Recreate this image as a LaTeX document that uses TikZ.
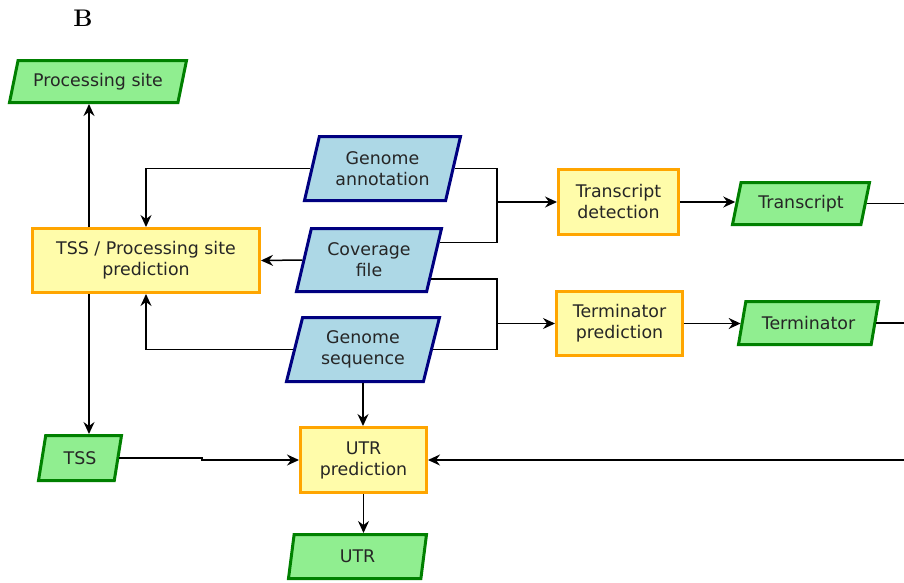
\documentclass[tikz,border=0pt]{standalone}
\usepackage{fontspec}
\newfontfamily\dejavu{DejaVu Sans}
\usetikzlibrary{shapes.geometric,arrows.meta}
\definecolor{procfill}{HTML}{FFFCAA}
\definecolor{procdraw}{HTML}{FFA500}
\definecolor{infill}{HTML}{ADD8E6}
\definecolor{indraw}{HTML}{000080}
\definecolor{outfill}{HTML}{90EE90}
\definecolor{outdraw}{HTML}{008000}
\begin{document}
\begin{tikzpicture}[x=1pt, y=-1pt,
  every node/.style = {align=center, text=black!85,
    font=\dejavu\fontsize{17.4}{21}\selectfont},
  proc/.style = {rectangle, draw=procdraw, fill=procfill, line width=3pt},
  para/.style = {trapezium, trapezium left angle=70, trapezium right angle=110,
    trapezium stretches body, line width=3pt},
  indata/.style = {para, draw=indraw, fill=infill},
  outdata/.style = {para, draw=outdraw, fill=outfill},
  wire/.style = {line width=1.5pt},
  flow/.style = {wire, -{Stealth[length=12pt, width=11pt, inset=4pt]}}]
  \useasboundingbox (0,0) rectangle (904,582);
  \node[font=\rmfamily\fontsize{24}{28}\selectfont\bfseries, text=black] (panel) at (83,18) {B};
  % inputs
  \node[indata, minimum width=156pt, minimum height=64pt] (annot) at (382.5,168.5) {Genome\\annotation};
  \node[indata, minimum width=145pt, minimum height=63pt] (cov) at (369,260) {Coverage\\file};
  \node[indata, minimum width=153pt, minimum height=64pt] (seq) at (363,349.5) {Genome\\sequence};
  % processing steps
  \node[proc, minimum width=227pt, minimum height=64pt] (tsspred) at (146,260.5) {TSS / Processing site\\prediction};
  \node[proc, minimum width=120pt, minimum height=65pt] (trdet) at (618.5,202) {Transcript\\detection};
  \node[proc, minimum width=126pt, minimum height=64pt] (termpred) at (619.5,323.5) {Terminator\\prediction};
  \node[proc, minimum width=126pt, minimum height=65pt] (utrpred) at (363.5,460) {UTR\\prediction};
  % outputs
  \node[outdata, minimum width=177pt, minimum height=42pt] (psite) at (98,81.5) {Processing site};
  \node[outdata, minimum width=137pt, minimum height=42pt] (transcript) at (801,203.5) {Transcript};
  \node[outdata, minimum width=140pt, minimum height=43pt] (terminator) at (808.5,323) {Terminator};
  \node[outdata, minimum width=83pt, minimum height=45pt] (tss) at (80,458) {TSS};
  \node[outdata, trapezium left angle=74, trapezium right angle=106,
    minimum width=138pt, minimum height=44pt] (utr) at (357.5,556.5) {UTR};
  % connectors
  \coordinate (jx) at (497,0);
  \coordinate (leftx) at (89,0);
  \coordinate (tssbend) at (202,0);
  \coordinate (rim) at (904,0);
  \draw[wire] (annot.east) -| (jx |- trdet.west) |- (cov.14);
  \draw[flow] (jx |- trdet.west) -- (trdet.west);
  \draw[wire] (cov.-17) -| (jx |- termpred.west) |- (seq.east);
  \draw[flow] (jx |- termpred.west) -- (termpred.west);
  \draw[flow] (annot.west) -| (tsspred.north);
  \draw[flow] (cov.west) -- (tsspred.east);
  \draw[flow] (seq.west) -| (tsspred.south);
  \draw[flow] (leftx |- tsspred.north) -- (leftx |- psite.south);
  \draw[flow] (leftx |- tsspred.south) -- (leftx |- tss.north);
  \draw[flow] (seq.south) -- (seq.south |- utrpred.north);
  \draw[flow] (utrpred.south) -- (utrpred.south |- utr.north);
  \draw[flow] (tss.east) -- (tssbend |- tss.east) |- (utrpred.west);
  \draw[flow] (rim |- utrpred.east) -- (utrpred.east);
  \draw[flow] (trdet.east) -- (trdet.east -| transcript.west);
  \draw[flow] (termpred.east) -- (termpred.east -| terminator.west);
  \draw[wire] (transcript.east) -- (rim |- transcript.east);
  \draw[wire] (terminator.east) -- (rim |- terminator.east);
\end{tikzpicture}
\end{document}
